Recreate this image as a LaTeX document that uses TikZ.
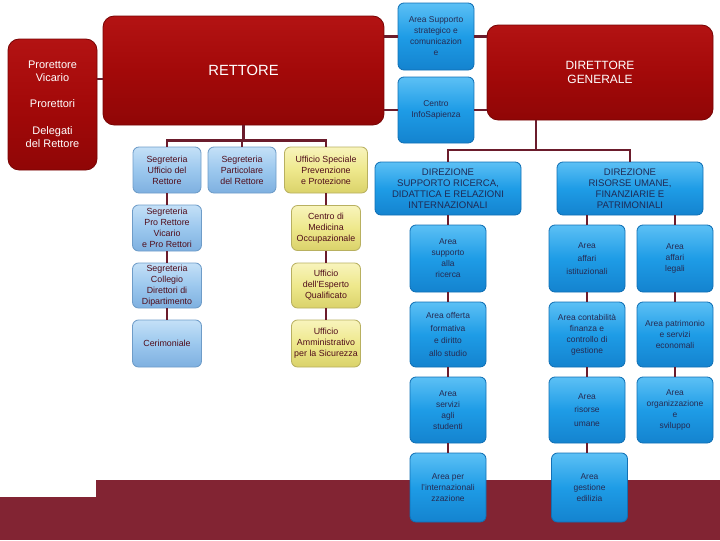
\documentclass[tikz,border=0pt]{standalone}
\usepackage{fontspec}
\setmainfont{Liberation Sans}
\begin{document}
\begin{tikzpicture}[
	x=0.025cm, y=-0.025cm,
	sz/.style 2 args={minimum width=#1*0.025cm, minimum height=#2*0.025cm, inner sep=1pt},
	link/.style={line width=1.6pt, draw=lnk},
	redbox/.style={draw=redEdge, line width=0.6pt, rounded corners=0.28cm, top color=redTop, bottom color=redBot, middle color=redMid, text=white, align=center},
	bluebox/.style={draw=blueEdge, line width=0.6pt, rounded corners=0.15cm, top color=blueTop, bottom color=blueBot, middle color=blueMid, text=blueTxt, align=center, font=\fontsize{6pt}{7.8pt}\selectfont},
	lightbox/.style={draw=lightEdge, line width=0.6pt, rounded corners=0.15cm, top color=lightTop, bottom color=lightBot, middle color=lightMid, text=maroonTxt, align=center, font=\fontsize{6.3pt}{7.8pt}\selectfont},
	yelbox/.style={draw=yelEdge, line width=0.6pt, rounded corners=0.15cm, top color=yelTop, bottom color=yelBot, middle color=yelMid, text=maroonTxt, align=center, font=\fontsize{6.3pt}{7.8pt}\selectfont}
	]
	% Define colors
	\definecolor{band}{RGB}{130,36,51}
	\definecolor{lnk}{HTML}{6B1C2C}
	\definecolor{redTop}{HTML}{B31313}
	\definecolor{redMid}{HTML}{A30909}
	\definecolor{redBot}{HTML}{900606}
	\definecolor{redEdge}{HTML}{780404}
	\definecolor{blueTop}{HTML}{5CC0F5}
	\definecolor{blueMid}{HTML}{1E9CE6}
	\definecolor{blueBot}{HTML}{1483CF}
	\definecolor{blueEdge}{HTML}{1170B5}
	\definecolor{blueTxt}{HTML}{262A52}
	\definecolor{lightTop}{HTML}{C4E0F7}
	\definecolor{lightMid}{HTML}{9CC8EE}
	\definecolor{lightBot}{HTML}{7EB0E0}
	\definecolor{lightEdge}{HTML}{6E9CC8}
	\definecolor{yelTop}{HTML}{F8F4BC}
	\definecolor{yelMid}{HTML}{EEE88C}
	\definecolor{yelBot}{HTML}{DAD26A}
	\definecolor{yelEdge}{HTML}{B8B060}
	\definecolor{maroonTxt}{HTML}{500C1A}
	\definecolor{navyTxt}{HTML}{1F2A55}
	
	\useasboundingbox (0,0) rectangle (720,540);
	% Bottom band
	\fill[band] (96,480) rectangle (720,540);
	\fill[band] (0,497) rectangle (96,540);
	
	% Top level
	\node[redbox, sz={89}{131}, font=\fontsize{7.8pt}{9.2pt}\selectfont] (vic) at (52.5,104.5) {Prorettore\\Vicario\\[9pt]Prorettori\\[10.5pt]Delegati\\del Rettore};
	\node[redbox, sz={281}{109}, font=\fontsize{10.5pt}{12pt}\selectfont] (rett) at (243.5,70.5) {RETTORE};
	\node[redbox, sz={226}{95}, font=\fontsize{8.5pt}{10pt}\selectfont] (dg) at (600,72.5) {DIRETTORE\\GENERALE};
	\node[bluebox, sz={76}{67}] (asup) at (436,36.5) {Area Supporto\\strategico e\\comunicazion\\e};
	\node[bluebox, sz={76}{66}] (cinfo) at (436,110) {Centro\\InfoSapienza};
	
	% Staff del Rettore
	\node[lightbox, sz={68}{46}] (segu) at (167,170) {Segreteria\\Ufficio del\\Rettore};
	\node[lightbox, sz={68}{46}] (segp) at (242,170) {Segreteria\\Particolare\\del Rettore};
	\node[yelbox, sz={83}{46}] (uspec) at (326,170) {Ufficio Speciale\\Prevenzione\\e Protezione};
	\node[lightbox, sz={69}{46}] (segv) at (167,228) {Segreteria\\Pro Rettore\\Vicario\\e Pro Rettori};
	\node[lightbox, sz={69}{45}] (segc) at (167,285.5) {Segreteria\\Collegio\\Direttori di\\Dipartimento};
	\node[lightbox, sz={69}{47}] (ceri) at (167,343.5) {Cerimoniale};
	\node[yelbox, sz={69}{45}] (cmed) at (326,228) {Centro di\\Medicina\\Occupazionale};
	\node[yelbox, sz={69}{45}] (esp) at (326,285.5) {Ufficio\\dell'Esperto\\Qualificato};
	\node[yelbox, sz={69}{47}] (uamm) at (326,343.5) {Ufficio\\Amministrativo\\per la Sicurezza};
	
	% Direzioni
	\node[bluebox, sz={146}{53}, text=navyTxt, font=\fontsize{6.8pt}{7.8pt}\selectfont] (dsup) at (448,188.5) {DIREZIONE\\SUPPORTO RICERCA,\\DIDATTICA E RELAZIONI\\INTERNAZIONALI};
	\node[bluebox, sz={146}{53}, text=navyTxt, font=\fontsize{6.8pt}{7.8pt}\selectfont] (drisr) at (630,188.5) {DIREZIONE\\RISORSE UMANE,\\FINANZIARIE E\\PATRIMONIALI};
	
	% Aree
	\node[bluebox, sz={76}{67}] (aric) at (448,258.5) {Area\\supporto\\alla\\ricerca};
	\node[bluebox, sz={76}{65}, font=\fontsize{6pt}{9pt}\selectfont] (aoff) at (448,334.5) {Area offerta\\formativa\\e diritto\\allo studio};
	\node[bluebox, sz={76}{66}] (aserv) at (448,410) {Area\\servizi\\agli\\studenti};
	\node[bluebox, sz={76}{69}] (aint) at (448,487.5) {Area per\\l'internazionali\\zzazione};
	\node[bluebox, sz={76}{67}, font=\fontsize{6pt}{9pt}\selectfont] (aist) at (587,258.5) {Area\\affari\\istituzionali};
	\node[bluebox, sz={76}{65}] (acont) at (587,334.5) {Area contabilità\\finanza e\\controllo di\\gestione};
	\node[bluebox, sz={76}{66}, font=\fontsize{6pt}{9.5pt}\selectfont] (aris) at (587,410) {Area\\risorse\\umane};
	\node[bluebox, sz={76}{69}] (aedi) at (589.5,487.5) {Area\\gestione\\edilizia};
	\node[bluebox, sz={76}{67}] (aleg) at (675,258.5) {Area\\affari\\legali};
	\node[bluebox, sz={76}{65}] (apat) at (675,334.5) {Area patrimonio\\e servizi\\economali};
	\node[bluebox, sz={76}{66}] (aorg) at (675,410) {Area\\organizzazione\\e\\sviluppo};
	
	% Connectors
	\draw[link] ([yshift=0.64cm]vic.east) -- ([yshift=0.64cm]vic.east -| rett.west);
	\draw[link] (asup.west -| rett.east) -- (asup.west);
	\draw[link] (asup.east) -- (asup.east -| dg.west);
	\draw[link] (cinfo.west -| rett.east) -- (cinfo.west);
	\draw[link] (cinfo.east) -- (cinfo.east -| dg.west);
	\foreach \n in {segu,segp,uspec}
		\draw[link] (rett.south) -- ++(0,15) -| (\n.north);
	\foreach \a/\b in {segu/segv, segv/segc, segc/ceri, uspec/cmed, cmed/esp, esp/uamm}
		\draw[link] (\a.south) -- (\b.north);
	\coordinate (dgbus) at (536,150);
	\draw[link] (dg.south -| dgbus) -- (dgbus);
	\draw[link] (dgbus) -| (dsup.north);
	\draw[link] (dgbus) -| (drisr.north);
	\draw[link] (dsup.south) -- (aric.north);
	\draw[link] (drisr.south -| aist.north) -- (aist.north);
	\draw[link] (drisr.south -| aleg.north) -- (aleg.north);
	\foreach \a/\b in {aric/aoff, aoff/aserv, aserv/aint, aist/acont, acont/aris, aleg/apat, apat/aorg}
		\draw[link] (\a.south) -- (\b.north);
	\draw[link] (aris.south) -- (aris.south |- aedi.north);
\end{tikzpicture}
\end{document}
